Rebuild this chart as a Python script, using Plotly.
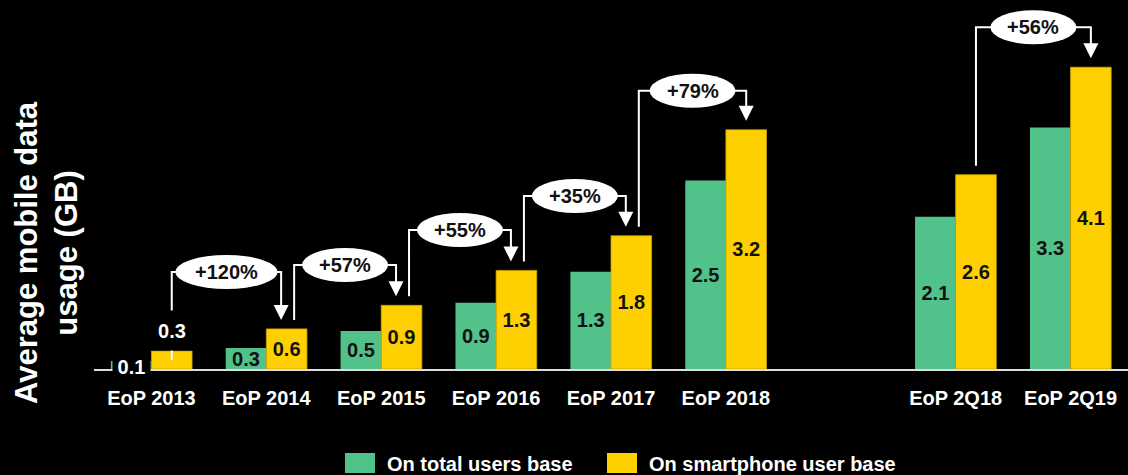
import plotly.graph_objects as go

# ---------------- data ----------------
categories = ["EoP 2013", "EoP 2014", "EoP 2015", "EoP 2016", "EoP 2017",
              "EoP 2018", "EoP 2Q18", "EoP 2Q19"]
total_users = [0.11, 0.285, 0.515, 0.90, 1.32, 2.56, 2.07, 3.28]
smartphone_users = [0.245, 0.545, 0.865, 1.34, 1.81, 3.25, 2.64, 4.10]
total_labels = ["0.1", "0.3", "0.5", "0.9", "1.3", "2.5", "2.1", "3.3"]
smartphone_labels = ["0.3", "0.6", "0.9", "1.3", "1.8", "3.2", "2.6", "4.1"]
growth_pairs = [(0, 1), (1, 2), (2, 3), (3, 4), (4, 5), (6, 7)]
growth_labels = ["+120%", "+57%", "+55%", "+35%", "+79%", "+56%"]
series_names = ["On total users base", "On smartphone user base"]

# ---------------- layout / style constants ----------------
W, H = 1128, 475
ML, MR, MT, MB = 94, 0, 0, 106
PLOT_W, PLOT_H = W - ML - MR, H - MT - MB
XR = [-0.5, 8.5]
YMAX = PLOT_H / 73.6
PXX = PLOT_W / (XR[1] - XR[0])   # px per x unit
PXY = PLOT_H / YMAX              # px per y unit
BARGAP = 0.293
BAR_OFF = (1 - BARGAP) / 4       # center offset of each bar in a group

GREEN = "#52C28B"
YELLOW = "#FFD000"
DARK = "#111111"
WHITE = "#FFFFFF"
FONT = "Liberation Sans, Arial, Helvetica, sans-serif"

bracket_levels = [1.318, 1.413, 1.889, 2.35, 3.78, 4.643]
start_offsets_px = [-9, 9, 9, 9, 9, 9]
ARROW_GAP_PX = 9

# quarterly categories get an empty slot before them
xpos = [i + (1 if "Q" in c else 0) for i, c in enumerate(categories)]


def px_x(p):
    return (p - ML) / PLOT_W


def px_y(p):
    return (MT + PLOT_H - p) / PLOT_H


fig = go.Figure()

inside_pos = ["none" if i == 0 else "inside" for i in range(len(categories))]

fig.add_trace(go.Bar(
    x=xpos, y=total_users, name=series_names[0],
    marker=dict(color=GREEN, line=dict(width=0)),
    text=total_labels, textposition=inside_pos, insidetextanchor="middle",
    textangle=0, textfont=dict(family=FONT, size=20, color=DARK, weight="bold"),
    hoverinfo="skip", showlegend=False,
))
fig.add_trace(go.Bar(
    x=xpos, y=smartphone_users, name=series_names[1],
    marker=dict(color=YELLOW, line=dict(width=0.8, color="#C9A200")),
    text=smartphone_labels, textposition=inside_pos, insidetextanchor="middle",
    textangle=0, textfont=dict(family=FONT, size=20, color=DARK, weight="bold"),
    hoverinfo="skip", showlegend=False,
))

shapes = []
annotations = []

sources = [a for a, b in growth_pairs]
targets = [b for a, b in growth_pairs]

ellipses = []
heads = []
for k, ((a, b), lbl) in enumerate(zip(growth_pairs, growth_labels)):
    lvl = bracket_levels[k]
    xl = xpos[a] + BAR_OFF + (7.5 / PXX if a in targets else 0)
    xr = xpos[b] + BAR_OFF + (-5.5 / PXX if b in sources else 0)
    ys = smartphone_users[a] + start_offsets_px[k] / PXY
    tip = smartphone_users[b] + ARROW_GAP_PX / PXY
    ye = tip + 10 / PXY
    shapes.append(dict(
        type="path", xref="x", yref="y",
        path=f"M {xl},{ys} L {xl},{lvl} L {xr},{lvl} L {xr},{ye}",
        line=dict(color=WHITE, width=2),
    ))
    xm = (xl + xr) / 2
    half_w = 51 if len(lbl) >= 5 else 43
    ellipses.append(dict(
        type="circle", xref="x", yref="y",
        xsizemode="pixel", ysizemode="pixel",
        xanchor=xm, yanchor=lvl,
        x0=-half_w, x1=half_w, y0=-17, y1=17,
        fillcolor=WHITE, line=dict(width=0),
    ))
    heads.append(dict(
        type="path", xref="x", yref="y",
        xsizemode="pixel", ysizemode="pixel",
        xanchor=xr, yanchor=tip,
        path="M -7.5,15 L 7.5,15 L 0,0 Z",
        fillcolor=WHITE, line=dict(width=0),
    ))
    annotations.append(dict(
        x=xm, y=lvl, xref="x", yref="y", text=lbl, showarrow=False,
        font=dict(family=FONT, size=20, color=DARK, weight="bold"),
        xanchor="center", yanchor="middle",
    ))

shapes += ellipses + heads

# labels of the first (tiny) group, drawn outside on black boxes
annotations.append(dict(
    x=xpos[0], y=0, xref="x", yref="y", xshift=-BAR_OFF * PXX, yshift=2,
    text=total_labels[0], showarrow=False, bgcolor="black",
    width=33, borderpad=2,
    font=dict(family=FONT, size=20, color=WHITE, weight="bold"),
    xanchor="center", yanchor="middle",
))
annotations.append(dict(
    x=xpos[0], y=smartphone_users[0], xref="x", yref="y", xshift=BAR_OFF * PXX,
    text=smartphone_labels[0], showarrow=False, bgcolor="black",
    width=36, height=35, borderpad=2,
    font=dict(family=FONT, size=20, color=WHITE, weight="bold"),
    xanchor="center", yanchor="bottom",
))

# y-axis title
annotations.append(dict(
    x=px_x(46), y=px_y(253), xref="paper", yref="paper",
    text="Average mobile data<br>usage (GB)", showarrow=False, textangle=-90,
    font=dict(family=FONT, size=31, color=WHITE, weight="bold"),
    xanchor="center", yanchor="middle", align="center",
))

# manual legend
legend_items = [(series_names[0], GREEN, 345), (series_names[1], YELLOW, 607)]
for name, col, lx in legend_items:
    shapes.append(dict(
        type="rect", xref="paper", yref="paper",
        x0=px_x(lx), x1=px_x(lx + 30), y0=px_y(473), y1=px_y(453),
        fillcolor=col, line=dict(width=0),
    ))
    annotations.append(dict(
        x=px_x(lx + 40), y=px_y(464), xref="paper", yref="paper",
        text=name, showarrow=False, xanchor="left", yanchor="middle",
        font=dict(family=FONT, size=20, color=WHITE, weight="bold"),
    ))

fig.update_layout(
    width=W, height=H,
    margin=dict(l=ML, r=MR, t=MT, b=MB, pad=0),
    paper_bgcolor="black", plot_bgcolor="black",
    barmode="group", bargap=BARGAP, bargroupgap=0,
    uniformtext=dict(minsize=20, mode="show"),
    shapes=shapes, annotations=annotations,
    showlegend=False,
    xaxis=dict(
        range=XR, tickvals=xpos, ticktext=categories,
        tickfont=dict(family=FONT, size=20, color=WHITE, weight="bold"),
        showline=True, linecolor="#DDDDDD", linewidth=1.5,
        ticks="", showgrid=False, zeroline=False, ticklabelstandoff=10,
        fixedrange=True,
    ),
    yaxis=dict(range=[0, YMAX], visible=False, fixedrange=True),
)

fig.write_html("out.html")
